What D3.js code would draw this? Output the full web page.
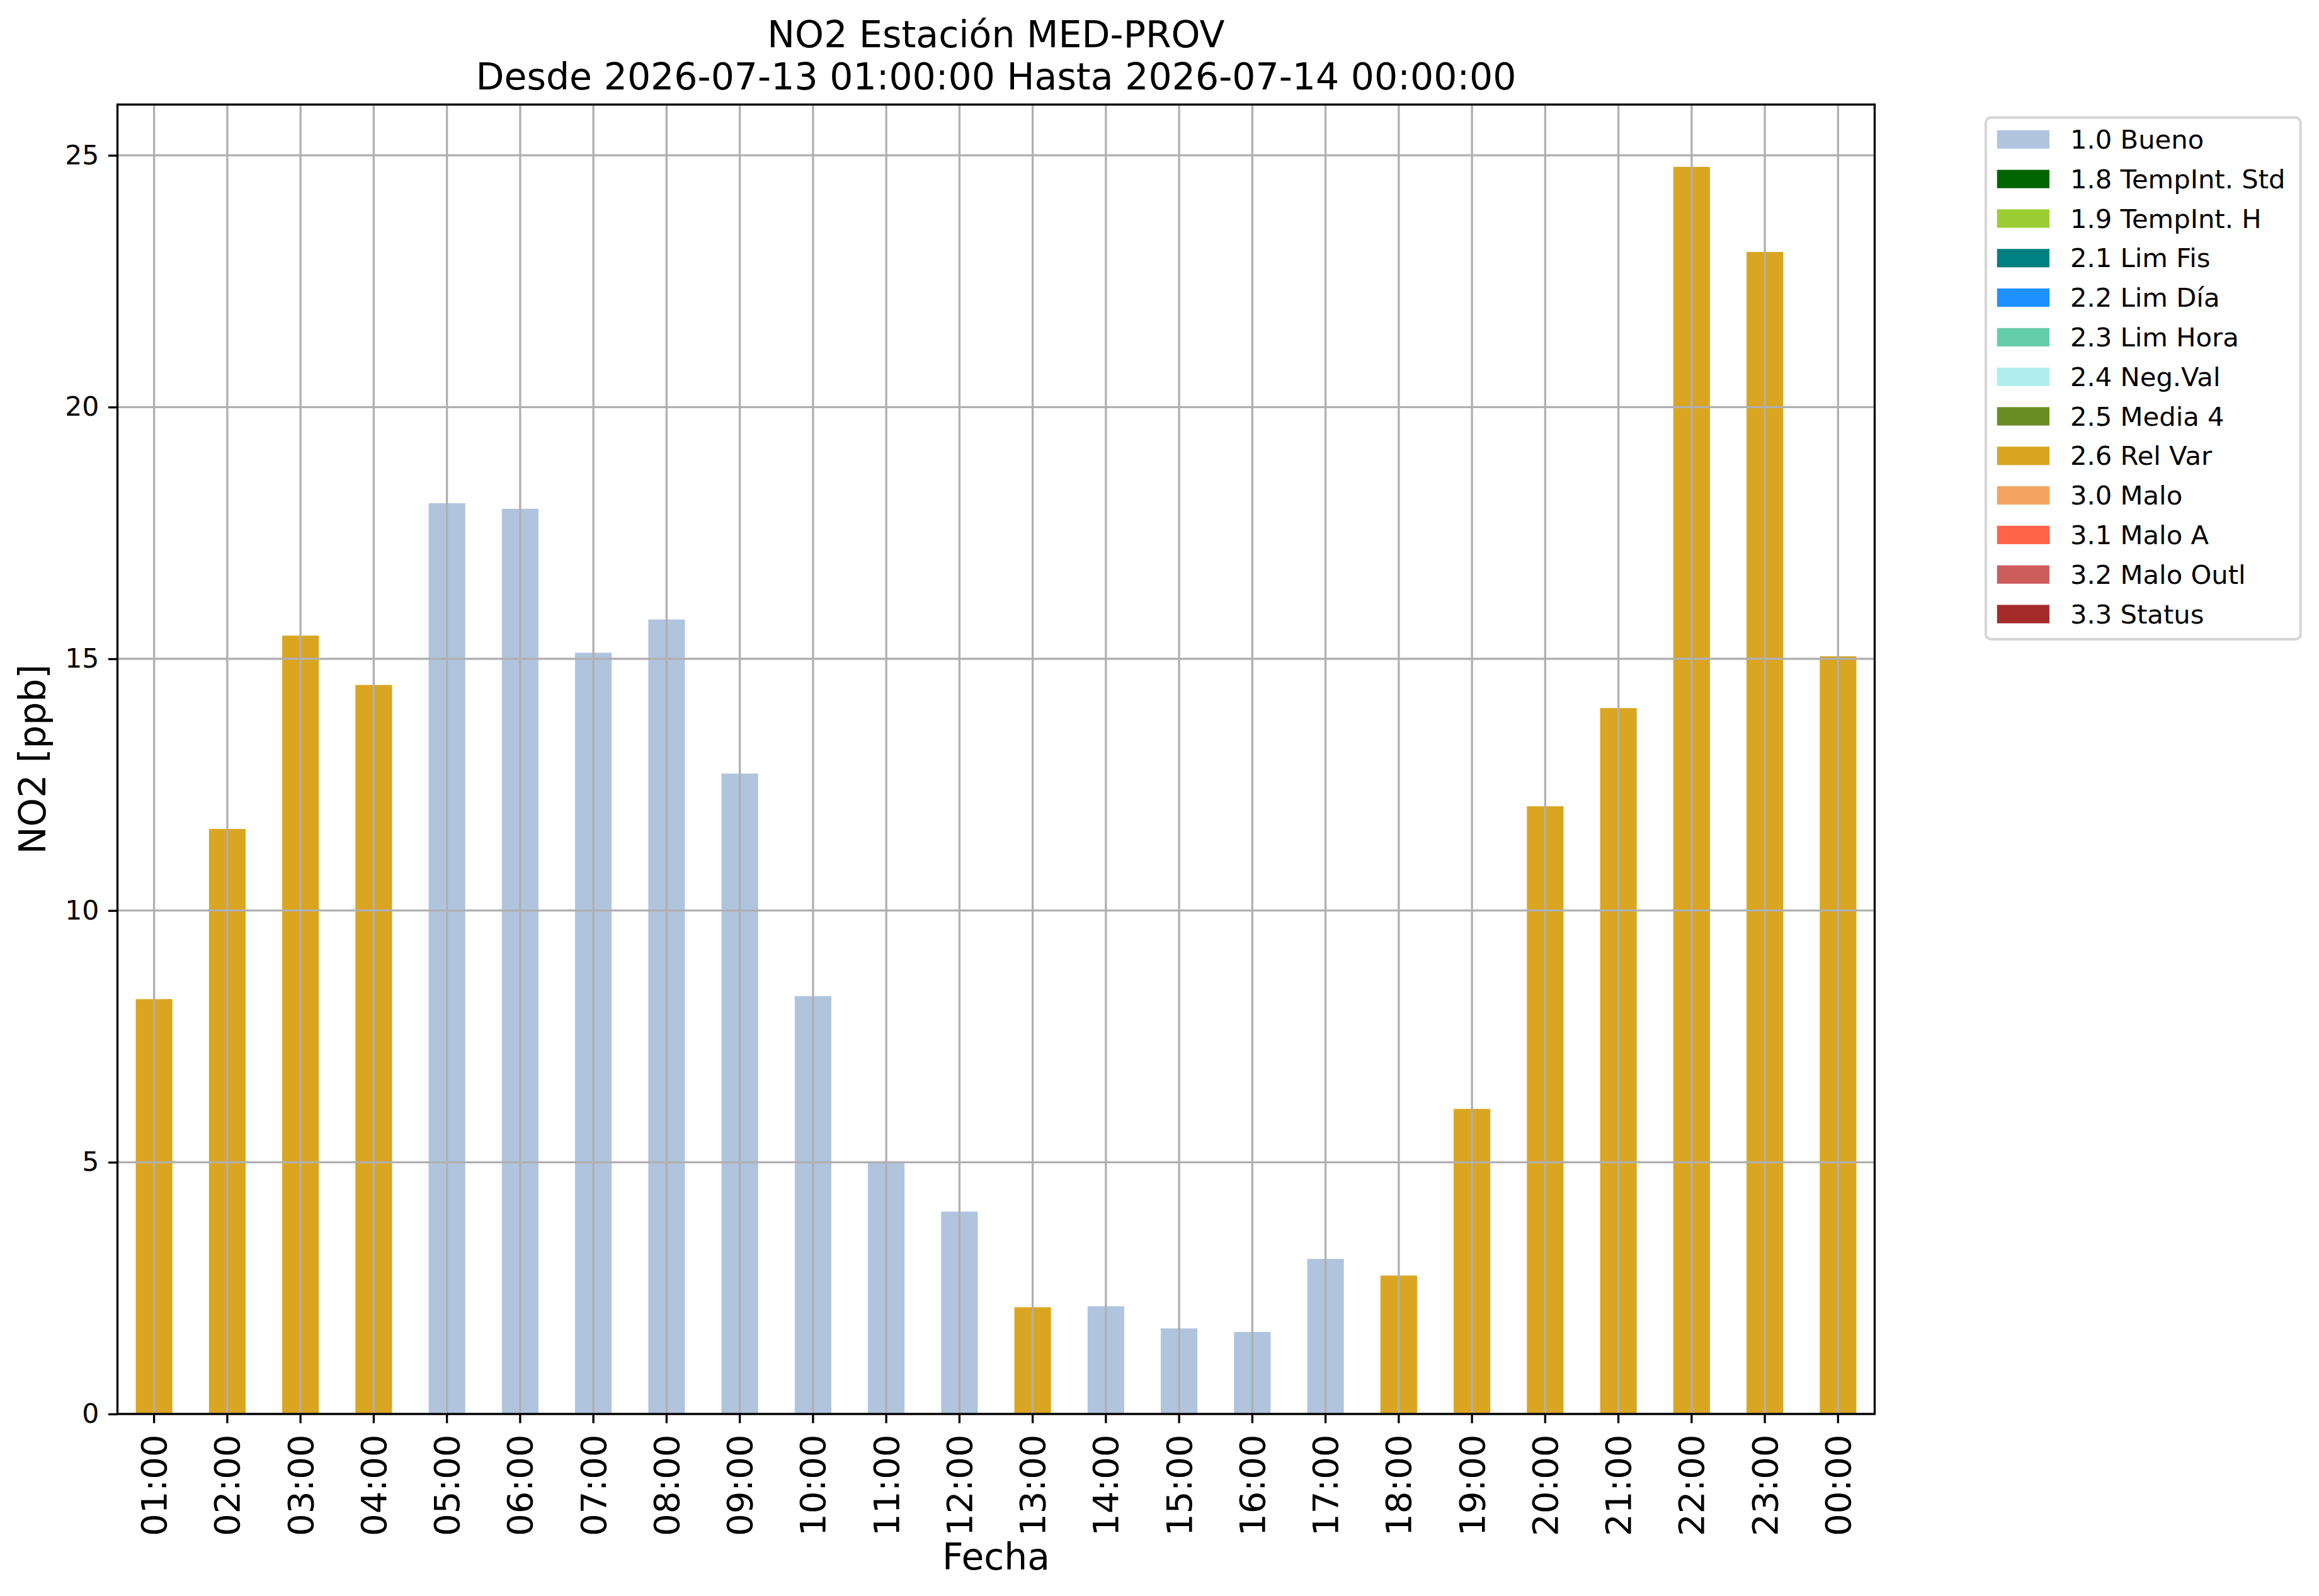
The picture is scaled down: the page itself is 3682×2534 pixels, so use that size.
<!DOCTYPE html>
<html>
<head>
<meta charset="utf-8">
<script src="https://cdn.jsdelivr.net/npm/d3@7"></script>
<style>
  body { margin: 0; background: #ffffff; }
  text { font-family: "DejaVu Sans", sans-serif; fill: #000000; }
</style>
</head>
<body>
<div id="chart"></div>
<script>
// chart data
const titleLines = ["NO2 Estación MED-PROV", "Desde 2026-07-13 01:00:00 Hasta 2026-07-14 00:00:00"];
const xLabel = "Fecha";
const yLabel = "NO2 [ppb]";

const hours = ["01:00", "02:00", "03:00", "04:00", "05:00", "06:00", "07:00", "08:00",
    "09:00", "10:00", "11:00", "12:00", "13:00", "14:00", "15:00", "16:00",
    "17:00", "18:00", "19:00", "20:00", "21:00", "22:00", "23:00", "00:00"];
const no2Values = [8.24, 11.62, 15.46, 14.48, 18.09, 17.98, 15.12, 15.78,
    12.72, 8.30, 4.99, 4.02, 2.12, 2.14, 1.70, 1.63,
    3.08, 2.75, 6.06, 12.07, 14.02, 24.77, 23.08, 15.05];
const hourFlags = ["2.6", "2.6", "2.6", "2.6", "1.0", "1.0", "1.0", "1.0",
    "1.0", "1.0", "1.0", "1.0", "2.6", "1.0", "1.0", "1.0",
    "1.0", "2.6", "2.6", "2.6", "2.6", "2.6", "2.6", "2.6"];

const flagCodes = ["1.0", "1.8", "1.9", "2.1", "2.2", "2.3", "2.4", "2.5", "2.6", "3.0", "3.1", "3.2", "3.3"];
const flagNames = ["1.0 Bueno", "1.8 TempInt. Std", "1.9 TempInt. H", "2.1 Lim Fis", "2.2 Lim Día",
    "2.3 Lim Hora", "2.4 Neg.Val", "2.5 Media 4", "2.6 Rel Var", "3.0 Malo", "3.1 Malo A",
    "3.2 Malo Outl", "3.3 Status"];
const flagColors = ["#b0c4de", "#006400", "#9acd32", "#008080", "#1e90ff", "#66cdaa", "#afeeee",
    "#6b8e23", "#daa520", "#f4a460", "#ff6347", "#cd5c5c", "#a52a2a"];

const yTicks = [0, 5, 10, 15, 20, 25];

function drawChart() {
    const width = 3682;
    const height = 2534;
    const left = 186.5, right = 2976.5, top = 166, bottom = 2245;
    const lw = 3.33;          // 0.8pt at 300 dpi
    const tickLen = 14.6;     // 3.5pt

    const svg = d3.select("#chart").append("svg").attr("width", width).attr("height", height);

    // one column per flag, like a stacked pandas frame
    const rows = hours.map((h, i) => {
        const row = { hour: h };
        flagCodes.forEach(f => { row[f] = hourFlags[i] === f ? no2Values[i] : 0; });
        return row;
    });
    const stacked = d3.stack().keys(flagCodes)(rows);
    const color = d3.scaleOrdinal().domain(flagCodes).range(flagColors);

    const yMax = d3.max(no2Values) * 1.05;
    const x = d3.scaleBand().domain(hours).range([left, right]).paddingInner(0.5).paddingOuter(0.25);
    const y = d3.scaleLinear().domain([0, yMax]).range([bottom, top]);

    // bars
    svg.append("g").selectAll("g").data(stacked).join("g")
        .attr("fill", d => color(d.key))
        .selectAll("rect").data(d => d).join("rect")
        .attr("x", d => x(d.data.hour))
        .attr("width", x.bandwidth())
        .attr("y", d => y(d[1]))
        .attr("height", d => y(d[0]) - y(d[1]));

    // grid over the bars
    const grid = svg.append("g").attr("stroke", "#b0b0b0").attr("stroke-width", lw);
    grid.selectAll("line.v").data(hours).join("line").attr("class", "v")
        .attr("x1", d => x(d) + x.bandwidth() / 2).attr("x2", d => x(d) + x.bandwidth() / 2)
        .attr("y1", top).attr("y2", bottom);
    grid.selectAll("line.h").data(yTicks).join("line").attr("class", "h")
        .attr("x1", left).attr("x2", right)
        .attr("y1", d => y(d)).attr("y2", d => y(d));

    // axes
    const yAxis = svg.append("g").attr("transform", `translate(${left},0)`)
        .call(d3.axisLeft(y).tickValues(yTicks).tickFormat(d3.format("d")).tickSize(tickLen).tickPadding(14.6).tickSizeOuter(0));
    yAxis.select(".domain").remove();
    yAxis.selectAll("line").attr("stroke", "#000").attr("stroke-width", lw);
    yAxis.selectAll("text").style("font-family", "DejaVu Sans").style("font-size", "42.5px").attr("fill", "#000");

    const xAxis = svg.append("g").attr("transform", `translate(0,${bottom})`)
        .call(d3.axisBottom(x).tickSize(tickLen).tickSizeOuter(0));
    xAxis.select(".domain").remove();
    xAxis.selectAll("line").attr("stroke", "#000").attr("stroke-width", lw);
    xAxis.selectAll("text")
        .style("font-family", "DejaVu Sans").style("font-size", "56px").attr("fill", "#000")
        .attr("transform", "rotate(-90)")
        .attr("x", -(tickLen + 18)).attr("y", 0).attr("dy", "0.35em")
        .attr("text-anchor", "end");

    // frame
    svg.append("rect").attr("x", left).attr("y", top).attr("width", right - left).attr("height", bottom - top)
        .attr("fill", "none").attr("stroke", "#000").attr("stroke-width", lw);

    // labels
    svg.append("text").attr("x", (left + right) / 2).attr("y", 2492)
        .attr("text-anchor", "middle").style("font-size", "58.3px").text(xLabel);
    svg.append("text").attr("transform", `translate(72,${(top + bottom) / 2}) rotate(-90)`)
        .attr("text-anchor", "middle").style("font-size", "58.3px").text(yLabel);

    svg.selectAll("text.title").data(titleLines).join("text").attr("class", "title")
        .attr("x", (left + right) / 2).attr("y", (d, i) => 75 + i * 66.6)
        .attr("text-anchor", "middle").style("font-size", "58.5px").text(d => d);

    // legend
    const legend = svg.append("g");
    legend.append("rect").attr("x", 3153).attr("y", 186.7).attr("width", 499.7).attr("height", 828.3)
        .attr("rx", 8.3).attr("fill", "#ffffff").attr("stroke", "#d6d6d6").attr("stroke-width", 4.17);
    const items = legend.selectAll("g.item").data(flagNames).join("g").attr("class", "item")
        .attr("transform", (d, i) => `translate(0,${236 + i * 62.8})`);
    items.append("rect").attr("x", 3170.8).attr("y", -29.2).attr("width", 83.2).attr("height", 29.2)
        .attr("fill", (d, i) => flagColors[i]);
    items.append("text").attr("x", 3287).attr("y", 0).style("font-size", "41.7px").text(d => d);
}

drawChart();
</script>
</body>
</html>
